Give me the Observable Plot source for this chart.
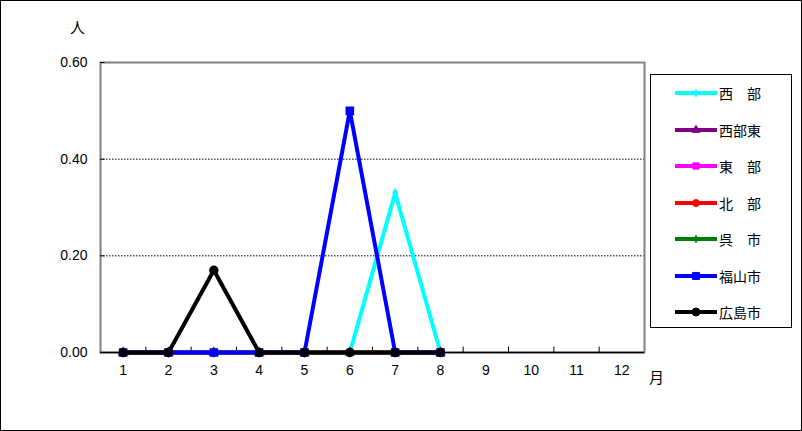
<!DOCTYPE html>
<html><head><meta charset="utf-8">
<script src="https://cdn.jsdelivr.net/npm/d3@7"></script>
<script src="https://cdn.jsdelivr.net/npm/@observablehq/plot@0.6"></script>
<style>
html,body{margin:0;padding:0;background:#fff;}
#wrap{position:relative;width:802px;height:431px;overflow:hidden;font-family:"Noto Sans CJK JP","DejaVu Sans",sans-serif;}
#border{position:absolute;left:0;top:0;width:802px;height:431px;box-sizing:border-box;border:1px solid #000;pointer-events:none;}
#legend{position:absolute;left:650px;top:74px;width:142px;height:254px;box-sizing:border-box;border:1px solid #000;background:#fff;}
.item{position:absolute;left:0;height:20px;display:flex;align-items:center;font-size:14px;color:#000;}
.item svg{margin-left:23px;margin-right:1px;}
</style></head>
<body><div id="wrap"></div>
<script>
const months = [1,2,3,4,5,6,7,8,9,10,11,12];
const seriesNames = ["西部","西部東","東部","北部","呉市","福山市","広島市"];
const legendLabels = ["西　部","西部東","東　部","北　部","呉　市","福山市","広島市"];
const colors = ["#00FFFF","#800080","#FF00FF","#FF0000","#008000","#0000FF","#000000"];
const symbols = ["diamond","triangle","square","circle","diamond","square","circle"];
const symbolR = [2.2,3,3.5,3.5,2.2,4,4];
const yTicks = [0, 0.2, 0.4, 0.6];
const gridValues = [0.2, 0.4];
const v西部   = [0,0,0,0,0,0,0.33,0,null,null,null,null];
const v西部東 = [0,0,0,0,0,0,0,0,null,null,null,null];
const v東部   = [0,0,0,0,0,0,0,0,null,null,null,null];
const v北部   = [0,0,0,0,0,0,0,0,null,null,null,null];
const v呉市   = [0,0,0,0,0,0,0,0,null,null,null,null];
const v福山市 = [0,0,0,0,0,0.5,0,0,null,null,null,null];
const v広島市 = [0,0,0.17,0,0,0,0,0,null,null,null,null];
const allValues = [v西部,v西部東,v東部,v北部,v呉市,v福山市,v広島市];

const data = [];
seriesNames.forEach((s,i)=>months.forEach((m,j)=>{
  if (allValues[i][j] != null) data.push({series:s, idx:i, month:m, value:allValues[i][j]});
}));
const boundaries = months.slice(1).map(m=>m-0.5);

const marks = [
  Plot.ruleY(gridValues, {stroke:"#000", strokeDasharray:"1.5,1.5", strokeWidth:1}),
  Plot.frame({stroke:"#808080", strokeWidth:2}),
  Plot.ruleX(boundaries, {y1:0, y2:0.011, stroke:"#000", strokeWidth:1}),
  Plot.ruleY(yTicks, {x1:0.5, x2:0.6, stroke:"#000", strokeWidth:1}),
  Plot.ruleY([0], {stroke:"#000", strokeWidth:1.5}),
];
seriesNames.forEach((s,i)=>{
  const d = data.filter(r=>r.idx===i);
  marks.push(Plot.line(d, {x:"month", y:"value", stroke:colors[i], strokeWidth:4, strokeLinejoin:"miter"}));
  marks.push(Plot.dot(d, {x:"month", y:"value", symbol:()=>symbols[i], fill:colors[i], stroke:colors[i], r:symbolR[i]}));
});
marks.push(
  Plot.axisX(months, {anchor:"bottom", tickSize:0, tickPadding:13, fontSize:14, label:null, fontFamily:"Liberation Sans, Arial, sans-serif"}),
  Plot.axisY(yTicks, {anchor:"left", tickSize:0, tickPadding:13, fontSize:14, label:null, tickFormat:d3.format(".2f"), fontFamily:"Liberation Sans, Arial, sans-serif"}),
  Plot.text(["人"], {frameAnchor:"top-left", textAnchor:"middle", lineAnchor:"middle", dx:-23, dy:-34, fontSize:15, fontFamily:"Noto Sans CJK JP"}),
  Plot.text(["月"], {frameAnchor:"bottom-right", textAnchor:"middle", lineAnchor:"middle", dx:12, dy:26, fontSize:15, fontFamily:"Noto Sans CJK JP"})
);

const chart = Plot.plot({
  width:802, height:431,
  marginLeft:100, marginRight:158, marginTop:62, marginBottom:79,
  x:{domain:[0.5,12.5], axis:null},
  y:{domain:[0,0.6], axis:null},
  symbol:{type:"identity"},
  style:{background:"#fff", color:"#000"},
  marks
});
const wrap = document.getElementById("wrap");
wrap.appendChild(chart);

const legend = document.createElement("div");
legend.id = "legend";
legendLabels.forEach((lab,i)=>{
  const it = document.createElement("div");
  it.className = "item";
  it.style.top = (8 + i*36.5) + "px";
  const sym = d3.symbol(d3["symbol"+symbols[i][0].toUpperCase()+symbols[i].slice(1)], Math.PI*symbolR[i]*symbolR[i])();
  it.innerHTML = `<svg width="44" height="12"><line x1="1" x2="43" y1="6" y2="6" stroke="${colors[i]}" stroke-width="4"/><path d="${sym}" transform="translate(22,6)" fill="${colors[i]}" stroke="${colors[i]}"/></svg><span>${lab}</span>`;
  legend.appendChild(it);
});
wrap.appendChild(legend);
const b = document.createElement("div"); b.id="border"; wrap.appendChild(b);
</script></body></html>
